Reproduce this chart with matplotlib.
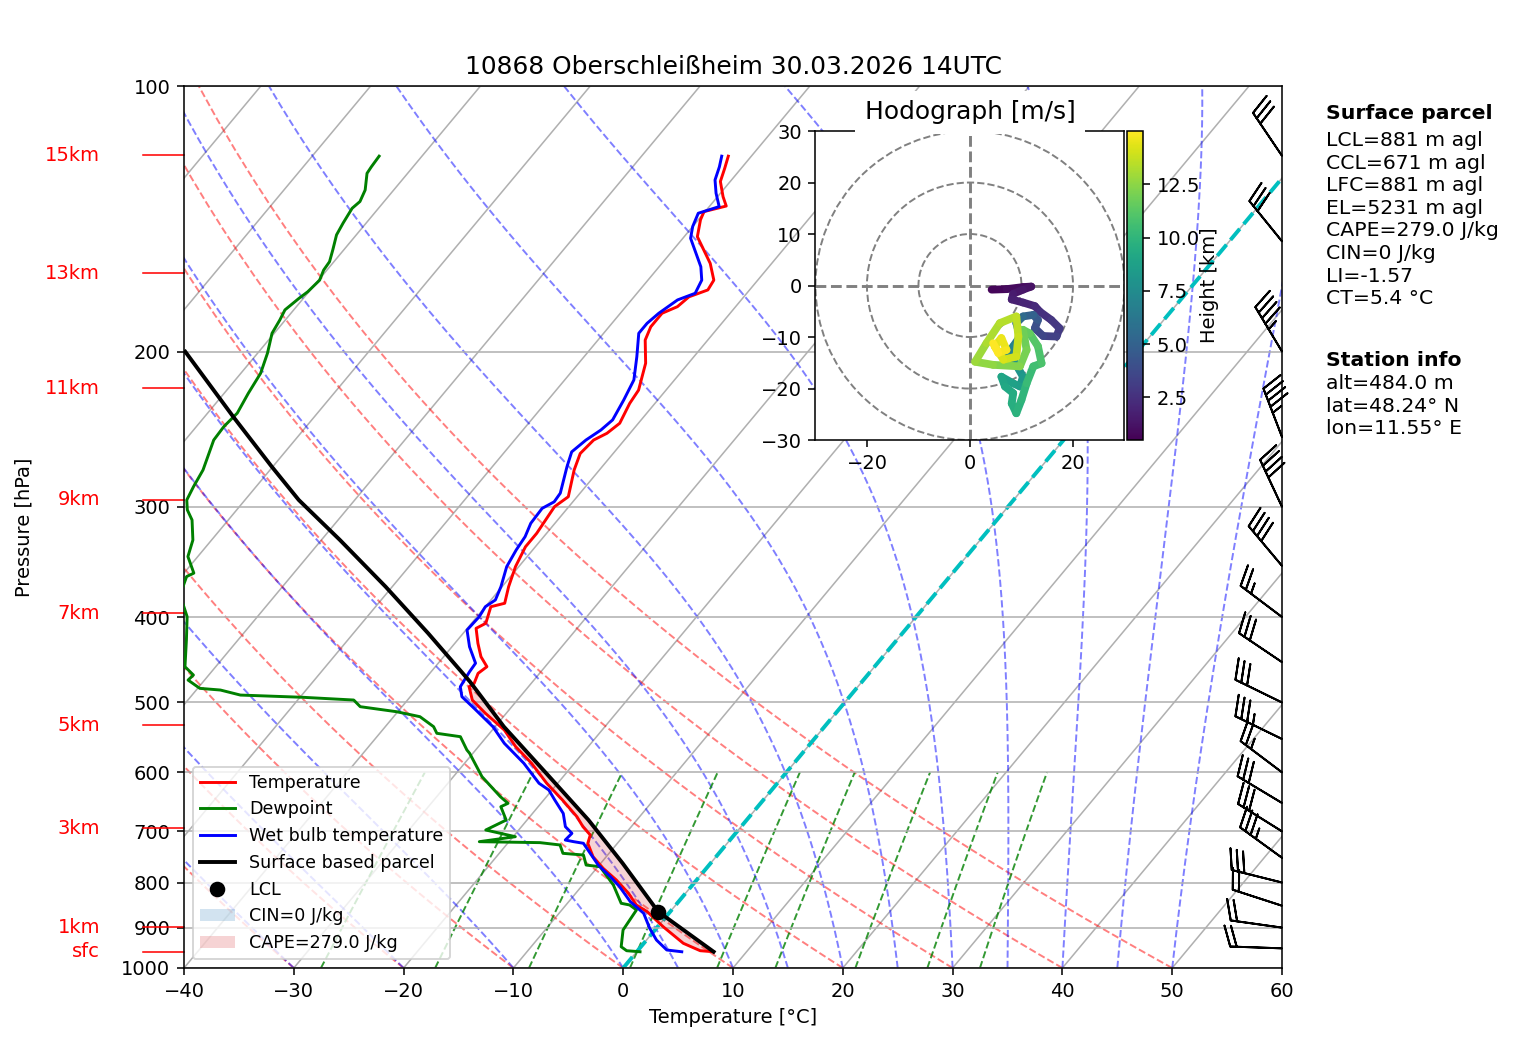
import numpy as np
import matplotlib
matplotlib.use('Agg')
from matplotlib import pyplot as plt
from matplotlib.transforms import Affine2D, blended_transform_factory
from matplotlib.ticker import MultipleLocator, ScalarFormatter, NullLocator, NullFormatter
from matplotlib.collections import LineCollection
from matplotlib.patches import Circle, Patch

# ---- sounding 10868, 30.03.2026 14UTC ----
p_temp = [958.5, 955.9, 937.6, 897.8, 863.2, 848.3, 822.7, 794.9, 770.9, 747.9,
          722.1, 706.7, 691.5, 673.8, 644.9, 617.4, 586.0, 561.2, 537.3, 514.3,
          496.8, 479.9, 475.6, 463.4, 455.4, 443.7, 428.4, 412.0, 406.6, 389.4,
          385.9, 369.6, 350.7, 333.0, 321.5, 310.5, 299.9, 292.2, 272.5, 261.0,
          252.0, 247.6, 241.2, 229.0, 221.2, 206.2, 194.1, 187.5, 181.0, 177.9,
          173.4, 170.3, 166.0, 158.9, 148.2, 141.8, 138.8, 136.8, 133.5, 128.3,
          124.0, 120.1]
t_temp = [7.0, 5.7, 3.6, 0.5, -2.1, -3.6, -5.2, -7.3, -9.4, -11.2,
          -12.7, -13.1, -14.4, -15.7, -18.3, -21.0, -23.9, -26.6, -28.9, -31.9,
          -34.1, -35.4, -35.2, -35.6, -35.3, -36.6, -37.9, -39.2, -38.7, -39.5,
          -38.5, -39.4, -40.3, -40.9, -40.9, -41.1, -41.3, -40.8, -42.3, -43.0,
          -42.8, -42.1, -41.7, -42.3, -42.5, -43.9, -45.7, -46.2, -46.2, -45.3,
          -45.0, -43.8, -44.0, -45.6, -48.8, -49.8, -50.1, -48.5, -49.5, -50.9,
          -51.5, -52.1]

p_wb = [958.5, 954.1, 929.5, 901.6, 866.8, 840.9, 808.8, 788.0, 764.3, 722.1,
        719.1, 716.0, 703.6, 691.5, 668.0, 644.9, 628.3, 617.4, 586.0, 556.2,
        532.6, 507.7, 492.5, 479.9, 461.5, 451.3, 432.3, 413.8, 399.7, 389.4,
        382.6, 369.6, 350.7, 335.8, 324.3, 313.2, 301.2, 296.1, 289.5, 270.2,
        259.9, 252.0, 245.5, 239.1, 227.0, 215.4, 202.7, 190.7, 185.8, 181.0,
        174.8, 171.8, 166.0, 160.3, 148.8, 144.3, 139.4, 137.0, 132.3, 127.8,
        123.5, 120.1]
t_wb = [4.1, 2.6, 0.9, -0.6, -2.3, -4.4, -6.5, -8.1, -10.1, -13.1,
        -14.1, -15.0, -14.9, -16.0, -17.2, -19.0, -20.3, -21.7, -24.6, -27.9,
        -30.2, -33.3, -35.3, -36.2, -36.5, -36.6, -38.4, -39.9, -39.8, -40.0,
        -39.6, -40.1, -41.1, -41.5, -41.7, -42.2, -42.3, -41.7, -41.8, -43.2,
        -43.9, -43.5, -42.9, -42.6, -43.1, -43.7, -45.2, -46.8, -46.8, -46.5,
        -45.8, -44.7, -45.1, -46.2, -49.3, -50.0, -50.5, -49.1, -50.4, -51.5,
        -52.1, -52.7]

p_dew = [958.5, 955.9, 946.0, 905.6, 874.6, 859.4, 848.3, 844.6, 805.2, 767.7,
         764.3, 744.6, 741.3, 725.3, 720.9, 719.1, 709.8, 697.5, 679.6, 656.3,
         650.6, 639.4, 606.8, 570.9, 566.0, 546.7, 541.9, 532.6, 518.9, 512.2,
         505.5, 496.8, 493.3, 490.4, 484.0, 481.9, 471.6, 465.4, 455.4, 424.7,
         399.7, 377.6, 359.9, 356.7, 341.6, 327.2, 310.5, 302.4, 294.7, 284.6,
         272.5, 252.0, 243.3, 234.9, 223.1, 211.7, 200.9, 190.7, 184.2, 179.4,
         174.1, 171.1, 166.0, 161.7, 158.2, 153.4, 147.5, 143.0, 137.6, 135.2,
         131.2, 125.6, 123.5, 120.1]
td_dew = [0.3, -1.0, -1.8, -2.9, -3.1, -3.2, -4.2, -5.1, -7.2, -9.8,
          -11.2, -12.2, -14.2, -15.1, -17.1, -22.7, -19.8, -23.0, -21.9, -23.4,
          -23.0, -24.2, -27.4, -30.3, -30.8, -32.4, -34.8, -35.6, -37.6, -40.1,
          -43.8, -44.9, -49.7, -55.6, -57.8, -59.8, -61.5, -61.4, -62.8, -64.7,
          -66.4, -68.7, -69.5, -69.1, -70.9, -71.7, -73.3, -74.5, -75.3, -75.7,
          -76.1, -77.4, -77.5, -77.3, -77.8, -78.2, -79.1, -80.2, -80.5, -80.8,
          -80.4, -80.1, -79.9, -80.3, -80.4, -81.0, -81.8, -82.1, -82.4, -82.2,
          -82.6, -83.7, -83.8, -83.9]

p_parcel = [958.5, 863.2, 760.9, 679.6, 601.5, 532.6, 473.6, 417.3, 369.6, 327.2,
            294.7, 270.1, 237.1, 200.1]
t_parcel = [7.0, -1.1, -8.0, -14.4, -21.8, -29.2, -35.7, -43.2, -50.6, -58.3,
            -65.1, -70.1, -77.4, -86.7]
p_lcl = 863.2
t_lcl = -1.1

# wind barbs (knots)
barb_p = [950, 900, 850, 800, 750, 700, 650, 600, 550, 500, 450, 400, 350, 300, 250, 200, 150, 120]
barb_dir = [272, 278, 288, 284, 306, 302, 301, 307, 296, 296, 304, 307, 320, 335, 339, 329, 321, 326]
barb_spd = [20, 20, 20, 30, 35, 30, 30, 25, 35, 30, 30, 25, 40, 40, 45, 45, 30, 30]

# hodograph (m/s) and height (km)
hodo_u = [4.2, 7.1, 10.3, 11.9, 10.3, 8.4, 8.1, 10.3, 12.6, 13.6, 15.8, 17.4, 16.8, 14.2, 12.6,
          13.2, 12.3, 10.3, 9.0, 9.7, 8.4, 7.1, 8.4, 10.3, 9.7, 8.4, 6.1, 6.8, 8.4, 8.1,
          9.0, 10.0, 11.0, 12.3, 13.9, 13.2, 11.6, 10.3, 11.0, 9.7, 4.5, 1.0, 3.2, 5.8, 9.0,
          9.4, 9.0, 6.5, 4.8, 6.1, 7.1, 5.5, 4.5]
hodo_v = [-0.8, -0.7, -0.3, -0.2, -0.8, -1.6, -2.7, -3.3, -4.0, -5.1, -6.7, -8.3, -9.9, -9.8, -8.3,
          -6.7, -5.7, -6.0, -7.3, -9.9, -11.8, -13.8, -14.4, -17.7, -19.6, -19.0, -17.7, -19.6, -20.9, -22.9,
          -24.8, -22.2, -19.0, -15.7, -15.1, -11.8, -9.3, -8.6, -12.5, -15.7, -15.4, -14.8, -11.2, -7.3, -6.0,
          -9.9, -13.8, -14.4, -11.8, -10.2, -12.5, -13.1, -11.2]
hodo_h = [0.5, 0.7, 0.9, 1.0, 1.2, 1.4, 1.6, 1.8, 2.0, 2.2, 2.5, 2.8, 3.0, 3.3, 3.6,
          4.0, 4.5, 5.0, 5.5, 6.0, 6.5, 7.0, 7.5, 8.0, 8.3, 8.6, 8.8, 9.0, 9.2, 9.4,
          9.6, 9.8, 10.0, 10.3, 10.6, 10.9, 11.2, 11.5, 11.8, 12.0, 12.3, 12.6, 12.9, 13.2, 13.4,
          13.6, 13.8, 14.0, 14.2, 14.4, 14.6, 14.8, 15.0]

# height marks on the left
height_labels = ['sfc', '1km', '3km', '5km', '7km', '9km', '11km', '13km', '15km']
height_pres = [958.5, 899.1, 694.4, 530.7, 396.0, 294.7, 220.2, 163.1, 119.8]

parcel_info = ['LCL=881 m agl', 'CCL=671 m agl', 'LFC=881 m agl', 'EL=5231 m agl',
               'CAPE=279.0 J/kg', 'CIN=0 J/kg', 'LI=-1.57', 'CT=5.4 °C']
station_info = ['alt=484.0 m', 'lat=48.24° N', 'lon=11.55° E']

# ---- thermodynamics for the background lines ----
Rd, Cp, Lv, eps = 287.04, 1005.7, 2.501e6, 0.622


def sat_vap(tk):
    tc = tk - 273.15
    return 6.112 * np.exp(17.67 * tc / (tc + 243.5))


def moist_gradient(tk, p):
    es = sat_vap(tk)
    rs = eps * es / (p - es)
    return (Rd * tk + Lv * rs) / (Cp + Lv ** 2 * rs * eps / (Rd * tk ** 2)) / p


def moist_adiabat(t0, pres):
    tk = [t0 + 273.15]
    for i in range(1, len(pres)):
        dp = pres[i] - pres[i - 1]
        t, p = tk[-1], pres[i - 1]
        k1 = moist_gradient(t, p)
        k2 = moist_gradient(t + 0.5 * dp * k1, p + 0.5 * dp)
        k3 = moist_gradient(t + 0.5 * dp * k2, p + 0.5 * dp)
        k4 = moist_gradient(t + dp * k3, p + dp)
        tk.append(t + dp * (k1 + 2 * k2 + 2 * k3 + k4) / 6)
    return np.array(tk) - 273.15


fig = plt.figure(figsize=(1517 / 140, 1054 / 140), dpi=140)
ax = fig.add_axes([0.1213, 0.0816, 0.7238, 0.8368])
ax.set_yscale('log')
ax.set_xlim(-40, 60)
ax.set_ylim(1000, 100)

# skew-T transform: shift x by 0.67 axes widths per axes height
skew = ax.transScale + ax.transLimits + Affine2D().skew(np.arctan(0.67), 0) + ax.transAxes
blend = blended_transform_factory(ax.transAxes, ax.transData)

# isotherms
for t in range(-100, 61, 10):
    ax.plot([t, t], [1000, 100], color='#b0b0b0', lw=0.8, transform=skew, zorder=1)

# dry adiabats
pp = np.linspace(1000, 100, 100)
for t0 in range(-50, 51, 10):
    ax.plot((t0 + 273.15) * (pp / 1000) ** (Rd / Cp) - 273.15, pp, color='r', ls='--',
            alpha=0.5, lw=1, transform=skew, zorder=1.1)

# moist adiabats
pm = np.linspace(1000, 100, 181)
for t0 in list(range(-50, 0, 10)) + list(range(0, 51, 5)):
    ax.plot(moist_adiabat(t0, pm), pm, color='b', ls='--', alpha=0.5, lw=1,
            transform=skew, zorder=1.1)

# mixing ratio lines
pw = np.linspace(1000, 600, 50)
for w in [0.0004, 0.001, 0.002, 0.004, 0.007, 0.01, 0.016, 0.024, 0.032]:
    ln_e = np.log(pw * w / (eps + w) / 6.112)
    ax.plot(243.5 * ln_e / (17.67 - ln_e), pw, color='g', ls='--', alpha=0.8, lw=1,
            transform=skew, zorder=1.1)

ax.plot([0, 0], [1000, 100], color='c', ls='--', lw=2, transform=skew, zorder=1.5)

# CAPE shading
pt = np.array(p_temp)
tt = np.array(t_temp)
tpar = np.interp(np.log(pt)[::-1], np.log(p_parcel)[::-1], np.array(t_parcel)[::-1])[::-1]
ax.fill_betweenx(pt, tt, tpar, where=tpar >= tt, interpolate=True, facecolor='tab:red',
                 alpha=0.2, linewidth=0, transform=skew, zorder=2)

l_t, = ax.plot(t_temp, p_temp, color='r', lw=1.5, transform=skew, zorder=3, label='Temperature')
l_td, = ax.plot(td_dew, p_dew, color='g', lw=1.5, transform=skew, zorder=3, label='Dewpoint')
l_wb, = ax.plot(t_wb, p_wb, color='b', lw=1.5, transform=skew, zorder=3, label='Wet bulb temperature')
l_par, = ax.plot(t_parcel, p_parcel, color='k', lw=2, transform=skew, zorder=3,
                 label='Surface based parcel')
l_lcl, = ax.plot([t_lcl], [p_lcl], 'ko', ms=7, transform=skew, zorder=4, label='LCL')

# wind barbs at right edge
d = np.deg2rad(barb_dir)
bu = -np.array(barb_spd) * np.sin(d)
bv = -np.array(barb_spd) * np.cos(d)
ax.barbs(np.ones(len(barb_p)), barb_p, bu, bv, transform=blend, length=7.3, clip_on=False, zorder=3)

# height labels
for lab, p in zip(height_labels, height_pres):
    ax.plot([-0.0374, 0], [p, p], color='r', lw=0.8, transform=blend, clip_on=False)
    ax.text(-0.0765, p, lab, color='r', ha='right', va='center', transform=blend)

ax.set_xlim(-40, 60)
ax.set_ylim(1000, 100)
ax.xaxis.set_major_locator(MultipleLocator(10))
ax.yaxis.set_major_locator(MultipleLocator(100))
ax.yaxis.set_major_formatter(ScalarFormatter())
ax.yaxis.set_minor_locator(NullLocator())
ax.yaxis.set_minor_formatter(NullFormatter())
ax.grid(True, axis='y', color='#b0b0b0', lw=0.8)
ax.set_xlabel('Temperature [°C]')
ax.set_ylabel('Pressure [hPa]')
ax.yaxis.set_label_coords(-0.1375, 0.5)
ax.set_title('10868 Oberschleißheim 30.03.2026 14UTC', fontsize=12.8)

handles = [l_t, l_td, l_wb, l_par, l_lcl,
           Patch(facecolor='tab:blue', alpha=0.2, label='CIN=0 J/kg'),
           Patch(facecolor='tab:red', alpha=0.2, label='CAPE=279.0 J/kg')]
ax.legend(handles=handles, loc='lower left', fontsize=9)

# hodograph inset
axh = fig.add_axes([0.5372, 0.5825, 0.2044, 0.2932])
axh.set_xlim(-30, 30)
axh.set_ylim(-30, 30)
axh.set_aspect('equal')
for r in (10, 20, 30):
    axh.add_patch(Circle((0, 0), r, fill=False, edgecolor='grey', linestyle='--', lw=1))
axh.axhline(0, color='grey', ls='--', lw=1.5)
axh.axvline(0, color='grey', ls='--', lw=1.5)
pts = np.column_stack([hodo_u, hodo_v]).reshape(-1, 1, 2)
segs = np.concatenate([pts[:-1], pts[1:]], axis=1)
lc = LineCollection(segs, cmap='viridis', norm=plt.Normalize(min(hodo_h), max(hodo_h)),
                    lw=4, capstyle='round')
lc.set_array(np.array(hodo_h[1:]))
axh.add_collection(lc)
axh.set_xticks([-20, 0, 20])
axh.set_yticks(range(-30, 31, 10))
axh.set_title('Hodograph [m/s]', fontsize=12.8,
              bbox=dict(facecolor='white', edgecolor='none', pad=5))

cax = fig.add_axes([0.7429, 0.5825, 0.0106, 0.2932])
cb = fig.colorbar(lc, cax=cax, ticks=[2.5, 5, 7.5, 10, 12.5])
cb.set_label('Height [km]', labelpad=0)

# text on the right
fig.text(0.8741, 0.9013, 'Surface parcel', fontsize=10.5, fontweight='bold', va='top')
fig.text(0.8741, 0.8757, '\n'.join(parcel_info), fontsize=10.5, linespacing=1.24, va='top')
fig.text(0.8741, 0.6670, 'Station info', fontsize=10.5, fontweight='bold', va='top')
fig.text(0.8741, 0.6452, '\n'.join(station_info), fontsize=10.5, linespacing=1.24, va='top')

plt.savefig('out.png', dpi=140)
